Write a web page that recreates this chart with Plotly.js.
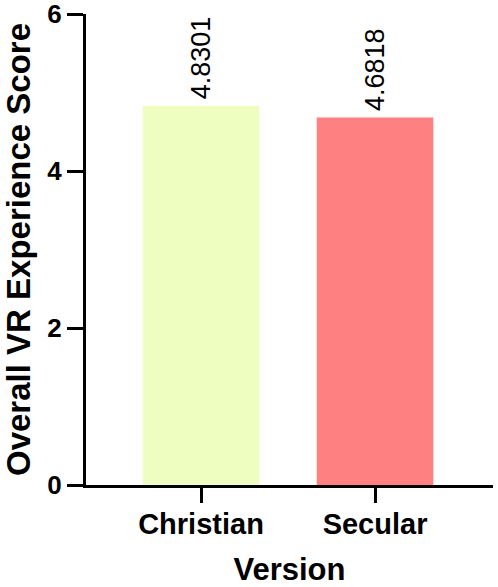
<!DOCTYPE html>
<html>
<head>
<meta charset="utf-8">
<script src="https://cdn.plot.ly/plotly-3.0.1.min.js"></script>
<style>
  html, body { margin: 0; padding: 0; background: #fff; }
  #myPlot { width: 498px; height: 587px; }
</style>
</head>
<body>
<div id="myPlot"></div>
<script>
var versions = ["Christian", "Secular"];
var scores = [4.8301, 4.6818];
var barColors = ["#EEFDC0", "#FF8080"];
var yTicks = [0, 2, 4, 6];

var fontFamily = "Arial, 'Liberation Sans', sans-serif";

// Define Data
var data = [{
    type: "bar",
    x: [0, 1],
    y: scores,
    width: 0.67,
    marker: { color: barColors, line: { width: 0 } },
    hoverinfo: "none"
}];

// value labels above the bars, rotated
var labels = scores.map(function (v, i) {
    return {
        x: i,
        y: v,
        xref: "x",
        yref: "y",
        text: v.toFixed(4),
        showarrow: false,
        textangle: -90,
        xanchor: "center",
        yanchor: "bottom",
        yshift: 4,
        font: { family: fontFamily, size: 27, color: "#000" }
    };
});

// Define Layout
var layout = {
    width: 498,
    height: 587,
    margin: { l: 86, r: 5, t: 14, b: 102 },
    paper_bgcolor: "#fff",
    plot_bgcolor: "#fff",
    showlegend: false,
    font: { family: fontFamily, color: "#000" },
    annotations: labels,
    xaxis: {
        range: [-0.661, 1.678],
        tickvals: [0, 1],
        ticktext: versions.map(function (s) { return "<b>" + s + "</b>"; }),
        showgrid: false,
        zeroline: false,
        showline: true,
        linecolor: "#000",
        linewidth: 3,
        ticks: "outside",
        ticklen: 15,
        tickwidth: 3,
        tickcolor: "#000",
        ticklabelstandoff: -4,
        ticklabeloverflow: "allow",
        tickfont: { family: fontFamily, size: 29, color: "#000" },
        title: { text: "<b>Version</b>", font: { family: fontFamily, size: 31, color: "#000" }, standoff: 30 }
    },
    yaxis: {
        range: [0, 6],
        tickvals: yTicks,
        ticktext: yTicks.map(function (t) { return "<b>" + t + "</b>"; }),
        showgrid: false,
        zeroline: false,
        showline: true,
        linecolor: "#000",
        linewidth: 3,
        ticks: "outside",
        ticklen: 16,
        tickwidth: 3,
        tickcolor: "#000",
        ticklabeloverflow: "allow",
        tickfont: { family: fontFamily, size: 26, color: "#000" },
        title: { text: "<b>Overall VR Experience Score</b>", font: { family: fontFamily, size: 33, color: "#000" }, standoff: 10 }
    }
};

// Display using Plotly
Plotly.newPlot("myPlot", data, layout, { staticPlot: true, displayModeBar: false });
</script>
</body>
</html>
